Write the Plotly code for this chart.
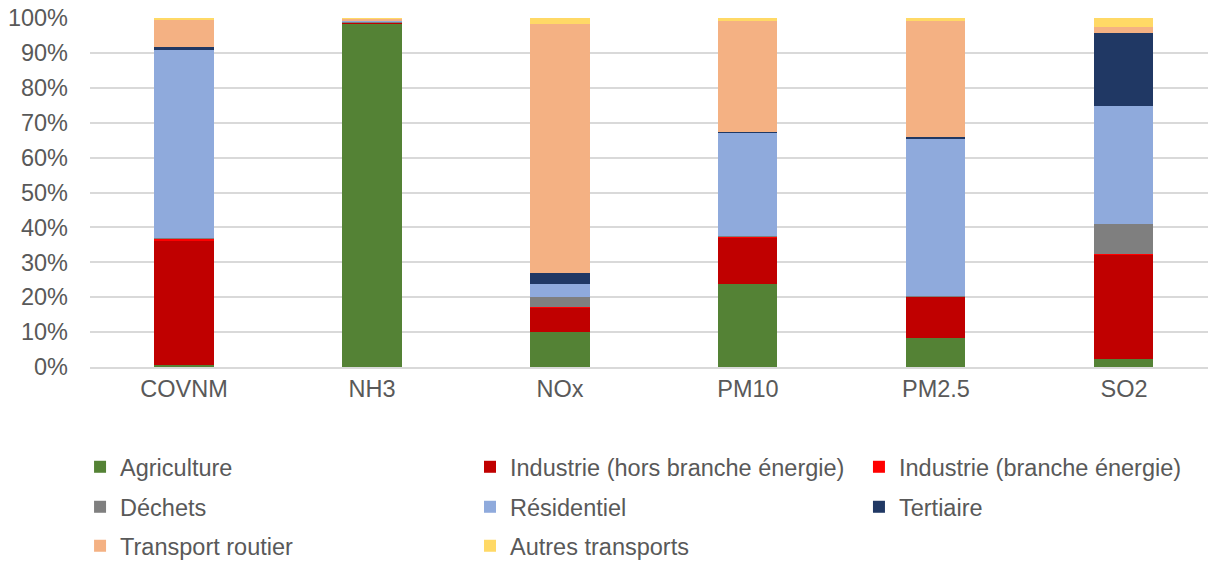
import plotly.graph_objects as go

polluants = ["COVNM", "NH3", "NOx", "PM10", "PM2.5", "SO2"]

agriculture = [0.5, 98.5, 10.1, 23.9, 8.2, 2.4]
industrie_hors_energie = [35.7, 0.1, 6.9, 13.3, 11.9, 29.9]
industrie_energie = [0.5, 0.0, 0.1, 0.1, 0.2, 0.1]
dechets = [0.2, 0.4, 3.1, 0.1, 0.1, 8.7]
residentiel = [54.0, 0.1, 3.7, 29.7, 45.1, 33.6]
tertiaire = [0.8, 0.0, 2.9, 0.3, 0.5, 20.9]
transport_routier = [7.8, 0.8, 71.6, 31.8, 33.2, 1.9]
autres_transports = [0.5, 0.1, 1.6, 0.8, 0.8, 2.5]

series = [
    ("Agriculture", agriculture, "#548235"),
    ("Industrie (hors branche énergie)", industrie_hors_energie, "#C00000"),
    ("Industrie (branche énergie)", industrie_energie, "#FF0000"),
    ("Déchets", dechets, "#7F7F7F"),
    ("Résidentiel", residentiel, "#8FAADC"),
    ("Tertiaire", tertiaire, "#203864"),
    ("Transport routier", transport_routier, "#F4B183"),
    ("Autres transports", autres_transports, "#FFD966"),
]

font = dict(family="Liberation Sans, Arial, sans-serif", size=23.5, color="#595959")

# legende en grille 3 colonnes, une legende par serie pour caler les positions
leg_cols = [-0.0089, 0.3399, 0.6878]
leg_rows = [-0.2235, -0.3381, -0.4498]

fig = go.Figure()
legends = {}
for i, (name, vals, col) in enumerate(series):
    key = "legend%d" % (i + 2)
    legends[key] = dict(x=leg_cols[i % 3], y=leg_rows[i // 3], xanchor="left", yanchor="top",
                        font=font, itemwidth=30, bgcolor="rgba(0,0,0,0)")
    # parts en pourcentage du total de chaque polluant
    fig.add_trace(go.Bar(x=polluants, y=[v / 100 for v in vals], name=name, legend=key,
                         showlegend=True, marker=dict(color=col, line=dict(width=0))))

fig.update_layout(
    barmode="stack",
    bargap=0.686,
    width=1208, height=561,
    margin=dict(l=90, r=0, t=18, b=194, autoexpand=False),
    plot_bgcolor="white", paper_bgcolor="white",
    font=font,
    **legends,
)
fig.update_xaxes(range=[-0.5, 5.447], showline=True, linecolor="#D9D9D9", linewidth=2,
                 tickfont=font, ticks="")
fig.update_yaxes(range=[0, 1.0], tickformat=".0%", dtick=0.1, gridcolor="#D9D9D9",
                 gridwidth=2, zeroline=False, tickfont=font, ticklabelstandoff=21)

fig.write_html("out.html", config={"displayModeBar": False},
               post_script="document.body.style.margin='0';")
